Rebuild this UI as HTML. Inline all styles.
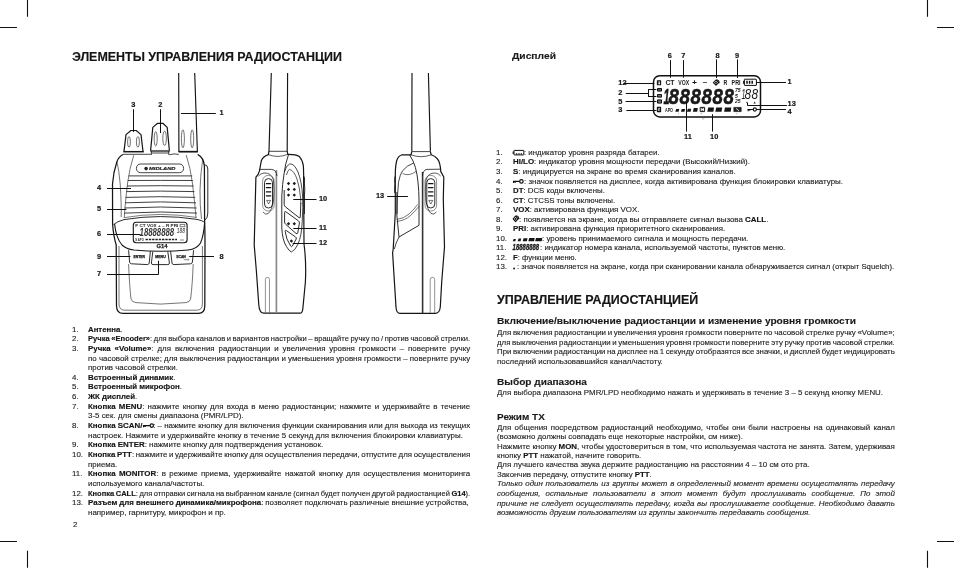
<!DOCTYPE html>
<html lang="ru"><head><meta charset="utf-8"><title>G14</title>
<style>
html,body{margin:0;padding:0;background:#fff;}
body{width:955px;height:569px;position:relative;overflow:hidden;font-family:"Liberation Sans",sans-serif;color:#222;-webkit-text-stroke:0.12px #222;}
.tx{position:absolute;left:0;top:0;width:955px;height:569px;will-change:transform;}
.t{position:absolute;white-space:nowrap;margin:0;padding:0;transform-origin:0 0;}
.h1{font-weight:bold;color:#151515;-webkit-text-stroke:0.15px #151515;}
.h2{font-weight:bold;color:#1a1a1a;-webkit-text-stroke:0.12px #1a1a1a;}
b{color:#151515;-webkit-text-stroke:0.15px #151515;}
.ic{display:inline-block;height:1px;}
svg.art{position:absolute;left:0;top:0;}
</style></head><body>
<div class="tx">
<svg class="art" width="955" height="569" viewBox="0 0 955 569" fill="none" stroke="#151515" stroke-width="1.1" stroke-linecap="butt" stroke-linejoin="round">
<g stroke="#111" stroke-width="1.1"><path d="M27.5 0V16.8M0 27.5H17M0 541.5H17M27.5 550.8V567.7M927.5 0V16.8M937 27.5H954M937 541.5H954M927.5 550.8V567.7"/></g>
<g id="front">
<path d="M178.7 73.1L178.9 152M194.7 73.1L197.4 152" stroke-width="1.15"/>
<path d="M178.6 151.7H197.8" stroke-width="1.7"/>
<g stroke="#333" stroke-width="0.7"><ellipse cx="182.9" cy="138.8" rx="1.5" ry="9"/><ellipse cx="192.2" cy="138.8" rx="1.5" ry="9"/></g>
<path d="M124 151.4L126 134.6L131 130.5H136.2L141 134.6L143 151.4" stroke-width="1.2"/>
<path d="M123.3 151.7H143.8" stroke-width="1.5"/>
<g stroke="#333" stroke-width="0.7"><ellipse cx="129" cy="141.9" rx="1.4" ry="5.3"/><ellipse cx="137.9" cy="141.9" rx="1.5" ry="5.3"/></g>
<path d="M150.6 150.8L152.8 127.4L157.6 123.3H162.8L167.2 127.4L169.4 150.8" stroke-width="1.2"/>
<path d="M150.4 151H169.6" stroke-width="1.3"/><path d="M151 153H169M151.3 151V155M168.8 151V155" stroke-width="0.8"/>
<g stroke="#333" stroke-width="0.7"><ellipse cx="155.7" cy="138.8" rx="1.5" ry="7.2"/><ellipse cx="164.6" cy="138.3" rx="1.8" ry="7.2"/></g>
<path d="M123.4 154.3Q118.6 156.6 116.8 162Q113.4 172 112.5 184L112.6 224Q113.4 236 116.2 245L116.5 306Q116.8 313.4 123 313.4H198.5Q204.6 313.4 204.8 306L205 245Q205 230 204.6 220L204.4 166Q203.6 157.5 198 154.6" stroke-width="1.25"/>
<path d="M123.4 154.3H150.8M169.4 154.8Q174 153.2 178.8 154.4M197.5 154.4L198 154.6" stroke-width="0.8"/>
<path d="M204.6 164.6Q207.8 165 207.8 169V213Q207.8 218 205 220" stroke-width="0.9"/>
<g stroke="#3a3a3a" stroke-width="0.7">
<path d="M116.8 161Q119 170 120.2 184Q121.5 205 121.2 217"/>
<path d="M133.8 155.2Q129.5 168 127.6 183Q125 205 124.2 218"/>
<path d="M186.2 155Q190.5 168 192.4 183Q195 205 196 218"/>
<path d="M202.6 160Q200.4 175 200 190Q199.8 205 201.5 219"/>
<path d="M119 246V304Q119 310.2 125 310.2H196.5Q202.4 310.2 202.4 304V246"/>
<path d="M128.6 264Q129.4 285 131 299Q131.6 302 136 302.6Q160 305.6 186 302.6Q190 302 190.6 299Q192.4 285 193.2 264"/>
</g>
<rect x="136.4" y="164" width="47.2" height="8.7" rx="4.2" stroke-width="0.8"/>
<path d="M128.6 175.9Q160.4 175.9 192.2 175.9" stroke-width="0.9" stroke="#2a2a2a"/>
<path d="M127.8 180.5Q160.3 180.3 192.8 180.5" stroke-width="0.9" stroke="#2a2a2a"/>
<path d="M127 186.0Q160.3 185.4 193.6 186.0" stroke-width="0.9" stroke="#2a2a2a"/>
<path d="M126.3 191.6Q160.3 190.6 194.4 191.6" stroke-width="0.9" stroke="#2a2a2a"/>
<path d="M125.6 197.4Q160.4 196.0 195.2 197.4" stroke-width="0.9" stroke="#2a2a2a"/>
<path d="M125 202.8Q160.5 201.0 196 202.8" stroke-width="0.9" stroke="#2a2a2a"/>
<path d="M124.6 208.0Q160.6 206.0 196.6 208.0" stroke-width="0.9" stroke="#2a2a2a"/>
<path d="M124.2 213.1Q160.6 210.9 197 213.1" stroke-width="0.9" stroke="#2a2a2a"/>
<path d="M113.6 224.5Q117 221.5 124 219.6Q160 213.6 197 219.4Q203 220.6 204.8 222.5" stroke-width="0.9"/>
<path d="M124.2 217.6Q160 211.4 196.4 217.4" stroke-width="0.7" stroke="#444"/>
<path d="M114.6 224Q116 238 122 245Q126 249 134 250Q161 252.6 188 250Q197 249 200.5 243Q203.6 236 204.6 223" stroke-width="1.1"/>
<rect x="133.3" y="222.2" width="53.8" height="20.6" rx="3" stroke-width="1.1"/>
<path d="M128.6 250.2L129.6 262Q129.8 263.6 131.5 263.8L147.4 264.6Q149 264.6 149.2 263L150.4 251.2" stroke-width="0.9"/>
<path d="M152.8 251.6L151.4 263Q151.4 264.6 153 264.6H167.8Q169.4 264.6 169.4 263L167.8 251.6" stroke-width="0.9"/>
<path d="M170.6 251.2L172 263Q172.2 264.6 173.8 264.6L190.6 263.8Q192.2 263.6 192.4 262L193.6 250.2" stroke-width="0.9"/>
</g>
<g stroke="#111" stroke-width="1">
<path d="M133.5 109.2V132M160.5 109.2V133M181 113.5H215.8M107 188.5H131M107 209.5H126.4M107 234.5H140.5M107 256.5H130.4M189.2 256.5H214M158.5 260.8V274.5H107"/>
</g>
<g id="side1">
<path d="M271.3 73.1L269 151.2M287.6 73.1L287.2 151.2" stroke-width="1.15"/>
<path d="M269 151.3H287.2" stroke-width="0.8"/>
<path d="M269 151.2L268.3 154.6Q263 156.6 261.4 160.4L259.4 171.2Q258.6 174.6 255.9 177.2L254.2 245L256.3 270L258.8 305Q259.4 313.2 264 313.2H300Q302.4 313.2 302.8 309L305.4 282Q306.4 262 304 244L303.6 176" stroke-width="1.2"/>
<path d="M287.2 151.2L287.8 154.3Q296 154.2 299.4 156.6Q302.6 160 303.4 166L303.7 176" stroke-width="1.2"/>
<path d="M303.6 176Q304.8 177 304.6 180Q304.2 183 304.6 186Q305 190 304.6 193Q304.2 196 304.6 199L304.4 214" stroke-width="0.9"/>
<path d="M268.3 154.6Q278 158.4 287.8 154.3" stroke-width="0.7"/>
<path d="M288.4 155Q285.4 163 284 174Q282.4 184 281.8 196L281.8 228Q282.4 240 286.4 246.5Q289.4 251.4 291.4 252" stroke-width="0.9"/>
<path d="M291.4 252Q295 250.6 298 244Q301.6 236 302.2 222Q303.2 206 302.6 196Q301.6 181 298 172Q294 163 289.6 164Q286.2 165.2 284.4 172" stroke-width="0.8"/>
<path d="M286.4 175Q288 169.4 289.6 169.4Q294 170.6 297 179Q299.6 187 300.6 198L300.8 204" stroke-width="0.7"/>
<path d="M284.2 190V204.5Q284.3 206 285.6 207L299 217.6Q300.2 218.4 300.3 217L300.8 203" stroke-width="0.9"/>
<path d="M285.6 211.6Q284.6 211.2 284.6 212.6V222Q284.6 223.4 285.8 224.4L296 233.4Q297.4 234.4 297.8 232.8L299.4 223Q299.6 221.6 298.4 220.8Z" stroke-width="0.9"/>
<path d="M286.4 230.6Q285 229.8 285.2 231.6Q286 239 290.6 246Q291.6 247.4 292.4 246L296.2 239Q296.8 237.8 295.6 237Z" stroke-width="0.9"/>
<path d="M286.8 183.5L288.5 181.8L290.2 183.5L288.5 185.2Z" fill="#1a1a1a" stroke="none"/>
<path d="M292.6 183.5L294.3 181.8L296.0 183.5L294.3 185.2Z" fill="#1a1a1a" stroke="none"/>
<path d="M286.8 189.4L288.5 187.70000000000002L290.2 189.4L288.5 191.1Z" fill="#1a1a1a" stroke="none"/>
<path d="M292.6 189.4L294.3 187.70000000000002L296.0 189.4L294.3 191.1Z" fill="#1a1a1a" stroke="none"/>
<path d="M286.8 195.1L288.5 193.4L290.2 195.1L288.5 196.79999999999998Z" fill="#1a1a1a" stroke="none"/>
<path d="M292.6 195.1L294.3 193.4L296.0 195.1L294.3 196.79999999999998Z" fill="#1a1a1a" stroke="none"/>
<path d="M286.8 223.8L288.5 222.10000000000002L290.2 223.8L288.5 225.5Z" fill="#1a1a1a" stroke="none"/>
<path d="M292.6 223.8L294.3 222.10000000000002L296.0 223.8L294.3 225.5Z" fill="#1a1a1a" stroke="none"/>
<path d="M289.7 241L291.4 239.3L293.09999999999997 241L291.4 242.7Z" fill="#1a1a1a" stroke="none"/>
<path d="M276.4 170V313" stroke="#8a8a8a" stroke-width="1.7"/>
<path d="M260 169.4H271.5Q276.6 170 276.9 176" stroke-width="0.8"/>
<path d="M258.6 176Q260.6 173.4 264 173Q271.5 172.6 273.4 180Q274.6 190 273.6 200Q272 210 268.4 213.4Q265.6 215.6 263 212" stroke-width="0.7"/>
<rect x="264.5" y="178.6" width="8" height="29.4" rx="4" stroke-width="0.9"/>
<rect x="262.6" y="175.4" width="11.6" height="35.6" rx="5.6" stroke-width="0.6" stroke="#444"/>
<path d="M265.9 183.6H271.2M265.9 187.7H271.2M265.9 191.8H271.2M265.9 195.8H271.2" stroke-width="1.3"/>
<path d="M266.6 200.4H270.6L268.6 204Z" stroke-width="0.6"/>
<path d="M265.4 313V279.4Q265.4 277.4 267.4 277.4Q269.5 277.4 269.5 279.4V313" stroke="#666" stroke-width="0.7"/>
</g>
<g stroke="#111" stroke-width="1"><path d="M293.3 199.5H316.5M293.3 228.5H316.5M292.7 243.5H316.5"/></g>
<g id="side2">
<path d="M412 73.1L411.8 151.6M428.4 73.1L430.4 151.6" stroke-width="1.15"/>
<path d="M411.8 151.6H430.4" stroke-width="0.8"/>
<path d="M411.8 151.6L411 154.8H402Q398 156 396.6 161Q395.4 166 395.3 172V213L393.2 249L392.6 253L396 307Q396.4 313.4 400 313.4H435Q439.6 313.4 440.3 307L441.7 282L444.5 247L443.3 199L443.8 177L440.8 171.6Q440.2 162 437.5 159Q435 156 431.2 154.8L430.4 151.6" stroke-width="1.2"/>
<path d="M411 154.8Q421 158.6 431.2 154.8" stroke-width="0.7"/>
<path d="M395.3 176Q394.2 178 394.6 181Q395 184 394.6 187Q394.2 190 394.7 193" stroke-width="0.8"/>
<path d="M409.6 154.8Q413.6 161 415.4 167.4Q417.4 175 418 182.2Q419 192 419 200V225.3" stroke-width="0.9"/>
<path d="M397 214Q397 196 398.5 182.2Q400 174 402.7 170.6Q406.6 165.6 413.6 163" stroke-width="0.8"/>
<path d="M402.6 173.6Q409 176.6 416.2 171.4" stroke-width="0.6"/>
<path d="M396.9 192V216L399 237L419 225.3" stroke-width="0.9"/>
<path d="M396.9 219.4Q404 218.6 409 214Q414.4 209 417.6 204.4M396.9 221.4Q405 220.6 410.4 215.6Q415.6 210.6 419 206.4" stroke-width="0.6"/>
<path d="M399 237Q395.6 243 394.4 249" stroke-width="0.8"/>
<path d="M422.6 172V313.4" stroke="#333" stroke-width="1.6"/>
<path d="M422.4 176Q422.8 170 427 169.4L440 169.2" stroke-width="0.8"/>
<path d="M440.6 176Q438.6 173.4 435.4 173Q428 172.6 426 180Q424.8 190 425.8 200Q427.4 210 431 213.4Q433.8 215.6 436.4 212" stroke-width="0.7"/>
<rect x="426.8" y="178.6" width="8" height="29.4" rx="4" stroke-width="0.9"/>
<rect x="425" y="175.4" width="11.6" height="35.6" rx="5.6" stroke-width="0.6" stroke="#444"/>
<path d="M428.1 183.6H433.4M428.1 187.7H433.4M428.1 191.8H433.4M428.1 195.8H433.4" stroke-width="1.3"/>
<path d="M428.8 200.4H432.8L430.8 204Z" stroke-width="0.6"/>
<path d="M430.2 313V279.4Q430.2 277.4 432.4 277.4Q434.7 277.4 434.7 279.4V313" stroke="#666" stroke-width="0.7"/>
</g>
<g stroke="#111" stroke-width="1"><path d="M387.1 196.5H407.9"/></g>
<g font-family="Liberation Sans, sans-serif">
<text x="133.4" y="107" font-size="7.4" font-weight="bold" text-anchor="middle" fill="#1a1a1a" stroke="none" style="stroke:#1a1a1a;stroke-width:0.2px">3</text>
<text x="160.3" y="107" font-size="7.4" font-weight="bold" text-anchor="middle" fill="#1a1a1a" stroke="none" style="stroke:#1a1a1a;stroke-width:0.2px">2</text>
<text x="219.6" y="115.4" font-size="7.4" font-weight="bold" text-anchor="start" fill="#1a1a1a" stroke="none" style="stroke:#1a1a1a;stroke-width:0.2px">1</text>
<text x="97.0" y="189.8" font-size="7.4" font-weight="bold" text-anchor="start" fill="#1a1a1a" stroke="none" style="stroke:#1a1a1a;stroke-width:0.2px">4</text>
<text x="97.0" y="210.9" font-size="7.4" font-weight="bold" text-anchor="start" fill="#1a1a1a" stroke="none" style="stroke:#1a1a1a;stroke-width:0.2px">5</text>
<text x="97.0" y="235.6" font-size="7.4" font-weight="bold" text-anchor="start" fill="#1a1a1a" stroke="none" style="stroke:#1a1a1a;stroke-width:0.2px">6</text>
<text x="97.0" y="258.7" font-size="7.4" font-weight="bold" text-anchor="start" fill="#1a1a1a" stroke="none" style="stroke:#1a1a1a;stroke-width:0.2px">9</text>
<text x="97.0" y="275.7" font-size="7.4" font-weight="bold" text-anchor="start" fill="#1a1a1a" stroke="none" style="stroke:#1a1a1a;stroke-width:0.2px">7</text>
<text x="219.6" y="258.7" font-size="7.4" font-weight="bold" text-anchor="start" fill="#1a1a1a" stroke="none" style="stroke:#1a1a1a;stroke-width:0.2px">8</text>
<text x="319.0" y="200.7" font-size="7.4" font-weight="bold" text-anchor="start" fill="#1a1a1a" stroke="none" style="stroke:#1a1a1a;stroke-width:0.2px">10</text>
<text x="319.0" y="229.8" font-size="7.4" font-weight="bold" text-anchor="start" fill="#1a1a1a" stroke="none" style="stroke:#1a1a1a;stroke-width:0.2px">11</text>
<text x="319.0" y="245.0" font-size="7.4" font-weight="bold" text-anchor="start" fill="#1a1a1a" stroke="none" style="stroke:#1a1a1a;stroke-width:0.2px">12</text>
<text x="376.0" y="197.7" font-size="7.4" font-weight="bold" text-anchor="start" fill="#1a1a1a" stroke="none" style="stroke:#1a1a1a;stroke-width:0.2px">13</text>
<text x="669.8" y="57.9" font-size="7.4" font-weight="bold" text-anchor="middle" fill="#1a1a1a" stroke="none" style="stroke:#1a1a1a;stroke-width:0.2px">6</text>
<text x="683.3" y="57.9" font-size="7.4" font-weight="bold" text-anchor="middle" fill="#1a1a1a" stroke="none" style="stroke:#1a1a1a;stroke-width:0.2px">7</text>
<text x="717.6" y="57.9" font-size="7.4" font-weight="bold" text-anchor="middle" fill="#1a1a1a" stroke="none" style="stroke:#1a1a1a;stroke-width:0.2px">8</text>
<text x="737.0" y="57.9" font-size="7.4" font-weight="bold" text-anchor="middle" fill="#1a1a1a" stroke="none" style="stroke:#1a1a1a;stroke-width:0.2px">9</text>
<text x="618.3" y="85.1" font-size="7.4" font-weight="bold" text-anchor="start" fill="#1a1a1a" stroke="none" style="stroke:#1a1a1a;stroke-width:0.2px">12</text>
<text x="618.3" y="94.8" font-size="7.4" font-weight="bold" text-anchor="start" fill="#1a1a1a" stroke="none" style="stroke:#1a1a1a;stroke-width:0.2px">2</text>
<text x="618.3" y="103.5" font-size="7.4" font-weight="bold" text-anchor="start" fill="#1a1a1a" stroke="none" style="stroke:#1a1a1a;stroke-width:0.2px">5</text>
<text x="618.3" y="111.6" font-size="7.4" font-weight="bold" text-anchor="start" fill="#1a1a1a" stroke="none" style="stroke:#1a1a1a;stroke-width:0.2px">3</text>
<text x="787.4" y="83.6" font-size="7.4" font-weight="bold" text-anchor="start" fill="#1a1a1a" stroke="none" style="stroke:#1a1a1a;stroke-width:0.2px">1</text>
<text x="787.6" y="105.6" font-size="7.4" font-weight="bold" text-anchor="start" fill="#1a1a1a" stroke="none" style="stroke:#1a1a1a;stroke-width:0.2px">13</text>
<text x="787.4" y="113.7" font-size="7.4" font-weight="bold" text-anchor="start" fill="#1a1a1a" stroke="none" style="stroke:#1a1a1a;stroke-width:0.2px">4</text>
<text x="687.9" y="138.8" font-size="7.4" font-weight="bold" text-anchor="middle" fill="#1a1a1a" stroke="none" style="stroke:#1a1a1a;stroke-width:0.2px">11</text>
<text x="714.2" y="138.8" font-size="7.4" font-weight="bold" text-anchor="middle" fill="#1a1a1a" stroke="none" style="stroke:#1a1a1a;stroke-width:0.2px">10</text>
<rect x="653.5" y="75.7" width="107" height="41.2" rx="6.2" stroke="#111" stroke-width="1.5" fill="none"/>
<g stroke="#111" stroke-width="1" fill="none"><path d="M670.5 60.1V77.7M683.5 60.1V77.7M716.5 59.4V78M737.5 59.4V78M623.7 83.5H654.3M625.8 93.5H648.5M648.5 89.5V97M648.1 89.5H656.4M648.1 96.5H656.4M625.5 101.5H656.4M626.4 110.5H656.4M756 82.5H786M747.5 103V105.5H786.9M756 109.5H786M686.5 102.7V131.6M712.5 114.2V131.6"/></g>
<text x="665.4" y="85.0" font-size="6.6" font-weight="bold" text-anchor="start" fill="#1a1a1a" stroke="none" textLength="9.2" lengthAdjust="spacingAndGlyphs">CT</text>
<text x="678.2" y="85.0" font-size="6.6" font-weight="bold" text-anchor="start" fill="#1a1a1a" stroke="none" textLength="10.9" lengthAdjust="spacingAndGlyphs">VOX</text>
<text x="692.0" y="85.2" font-size="7.2" font-weight="bold" text-anchor="start" fill="#1a1a1a" stroke="none" textLength="5.0" lengthAdjust="spacingAndGlyphs">+</text>
<text x="702.5" y="84.0" font-size="7.2" font-weight="bold" text-anchor="start" fill="#1a1a1a" stroke="none" textLength="4.8" lengthAdjust="spacingAndGlyphs">–</text>
<text x="723.6" y="85.0" font-size="6.6" font-weight="bold" text-anchor="start" fill="#1a1a1a" stroke="none" textLength="3.8" lengthAdjust="spacingAndGlyphs">R</text>
<text x="731.6" y="85.0" font-size="6.6" font-weight="bold" text-anchor="start" fill="#1a1a1a" stroke="none" textLength="8.9" lengthAdjust="spacingAndGlyphs">PRI</text>
<rect x="657.4" y="80.7" width="3.2" height="4.1" fill="none" stroke="#111" stroke-width="1.1"/>
<path d="M713.4 82.6L716 80.2L718.6 82.6L716 85.2ZM716.4 79.8Q719.4 80.2 719.1 83.2" stroke="#111" stroke-width="1.1" fill="none"/><circle cx="716" cy="82.7" r="1" fill="#111" stroke="none"/>
<rect x="744.4" y="79.2" width="12" height="6.2" rx="0.3" stroke="#111" stroke-width="1" fill="none"/><path d="M743.6 80.8V83.8" stroke="#111" stroke-width="1"/><path d="M747 80.8V83.8M749.6 80.8V83.8M752.2 80.8V83.8" stroke="#111" stroke-width="1.5"/>
<rect x="657.5" y="88.5" width="4" height="2.6" fill="#999" stroke="#111" stroke-width="1"/>
<text x="659.5" y="90.6" font-size="3.0" font-weight="bold" text-anchor="middle" fill="#1a1a1a" stroke="none" textLength="2.8" lengthAdjust="spacingAndGlyphs">HI</text>
<rect x="657.5" y="94.5" width="4" height="2.6" fill="#999" stroke="#111" stroke-width="1"/>
<text x="659.5" y="96.6" font-size="3.0" font-weight="bold" text-anchor="middle" fill="#1a1a1a" stroke="none" textLength="2.8" lengthAdjust="spacingAndGlyphs">LO</text>
<rect x="657.5" y="99.9" width="4" height="3.2" fill="#999" stroke="#111" stroke-width="1"/>
<text x="659.5" y="102.60000000000001" font-size="3.0" font-weight="bold" text-anchor="middle" fill="#1a1a1a" stroke="none" textLength="2.8" lengthAdjust="spacingAndGlyphs">DT</text>
<rect x="657.4" y="107.4" width="3.2" height="4.2" fill="none" stroke="#111" stroke-width="1.1"/>
<text x="659.0" y="111.0" font-size="3.2" font-weight="bold" text-anchor="middle" fill="#1a1a1a" stroke="none">S</text>
<text x="659.0" y="84.2" font-size="3.2" font-weight="bold" text-anchor="middle" fill="#1a1a1a" stroke="none">F</text>
<g font-style="italic">
<text x="663.6" y="103.6" font-size="22" font-weight="bold" text-anchor="start" fill="#1a1a1a" stroke="none" textLength="6.0" lengthAdjust="spacingAndGlyphs" stroke="#111" stroke-width="0.5" style="stroke:#111">1</text>
<text x="668.6" y="103.7" font-size="22.6" font-weight="bold" text-anchor="start" fill="#1a1a1a" stroke="none" textLength="10.4" lengthAdjust="spacingAndGlyphs" style="stroke:#111;stroke-width:0.5px">8</text>
<text x="679.57" y="103.7" font-size="22.6" font-weight="bold" text-anchor="start" fill="#1a1a1a" stroke="none" textLength="10.4" lengthAdjust="spacingAndGlyphs" style="stroke:#111;stroke-width:0.5px">8</text>
<text x="690.5400000000001" y="103.7" font-size="22.6" font-weight="bold" text-anchor="start" fill="#1a1a1a" stroke="none" textLength="10.4" lengthAdjust="spacingAndGlyphs" style="stroke:#111;stroke-width:0.5px">8</text>
<text x="701.51" y="103.7" font-size="22.6" font-weight="bold" text-anchor="start" fill="#1a1a1a" stroke="none" textLength="10.4" lengthAdjust="spacingAndGlyphs" style="stroke:#111;stroke-width:0.5px">8</text>
<text x="712.48" y="103.7" font-size="22.6" font-weight="bold" text-anchor="start" fill="#1a1a1a" stroke="none" textLength="10.4" lengthAdjust="spacingAndGlyphs" style="stroke:#111;stroke-width:0.5px">8</text>
<text x="723.45" y="103.7" font-size="22.6" font-weight="bold" text-anchor="start" fill="#1a1a1a" stroke="none" textLength="10.4" lengthAdjust="spacingAndGlyphs" style="stroke:#111;stroke-width:0.5px">8</text>
<text x="735.0" y="92.0" font-size="4.6" font-weight="bold" text-anchor="start" fill="#1a1a1a" stroke="none" textLength="5.6" lengthAdjust="spacingAndGlyphs">75</text>
<text x="735.0" y="97.6" font-size="4.6" font-weight="bold" text-anchor="start" fill="#1a1a1a" stroke="none" textLength="2.8" lengthAdjust="spacingAndGlyphs">5</text>
<text x="735.0" y="103.2" font-size="4.6" font-weight="bold" text-anchor="start" fill="#1a1a1a" stroke="none" textLength="5.6" lengthAdjust="spacingAndGlyphs">25</text>
<text x="741.6" y="99.0" font-size="15" font-weight="normal" text-anchor="start" fill="#1a1a1a" stroke="none" textLength="4.0" lengthAdjust="spacingAndGlyphs">1</text>
<text x="744.6" y="99.0" font-size="15" font-weight="normal" text-anchor="start" fill="#1a1a1a" stroke="none" textLength="6.6" lengthAdjust="spacingAndGlyphs">8</text>
<text x="751.4" y="99.0" font-size="15" font-weight="normal" text-anchor="start" fill="#1a1a1a" stroke="none" textLength="6.6" lengthAdjust="spacingAndGlyphs">8</text>
</g>
<circle cx="747" cy="102.5" r="0.7" fill="#111" stroke="none"/><path d="M753.4 103.4L754.6 101.4L755.8 103.4Z" fill="#222" stroke="none"/>
<g stroke="#111" fill="none"><path d="M747.4 109.5H753.6M748.2 109.5V111.2M749.8 109.5V110.8" stroke-width="1.2"/><circle cx="754.8" cy="109.5" r="1.6" stroke-width="1.1"/></g>
<text x="665.0" y="111.7" font-size="6.2" font-weight="bold" text-anchor="start" fill="#1a1a1a" stroke="none" textLength="8.0" lengthAdjust="spacingAndGlyphs">APO</text>
<path d="M676.2 108.9H679.1999999999999L678.6 111.7H675.3000000000001Z" fill="#151515" stroke="none"/>
<path d="M681.8000000000001 108.9H685.0999999999999L684.5 111.7H680.9000000000001Z" fill="#151515" stroke="none"/>
<path d="M687.8000000000001 108.7H691.1999999999999L690.6 111.7H686.9000000000001Z" fill="#151515" stroke="none"/>
<path d="M693.8000000000001 108.1H697.8L697.2 111.7H692.9000000000001Z" fill="#151515" stroke="none"/>
<path d="M708.2 107.5H714.0L713.4000000000001 111.7H707.3000000000001Z" fill="#151515" stroke="none"/>
<path d="M716.2 107.5H722.1999999999999L721.6 111.7H715.3000000000001Z" fill="#151515" stroke="none"/>
<path d="M725.0 107.5H731.3L730.7 111.7H724.1Z" fill="#151515" stroke="none"/>
<rect x="700.2" y="107.4" width="4.4" height="4.2" fill="none" stroke="#111" stroke-width="1"/><path d="M701.6 108.6h1.6M701.6 110.4h1.6" stroke="#111" stroke-width="0.7"/>
<rect x="733.8" y="107.4" width="7.4" height="4.2" fill="#222" stroke="#111" stroke-width="0.6"/><path d="M736 108.4L739 110.8" stroke="#fff" stroke-width="0.8"/>
<path d="M678 113.6h1M700.6 113.8h1.6M736 113.8h1.2M702 118.6q1.2 0.8 2.4 0" stroke="#666" stroke-width="0.5" fill="none"/>
<text x="135.3" y="226.9" font-size="3.5" font-weight="bold" text-anchor="start" fill="#1a1a1a" stroke="none" textLength="43" lengthAdjust="spacingAndGlyphs">F CT VOX + – R PRI</text>
<rect x="180" y="224.4" width="4.8" height="2.3" fill="none" stroke="#222" stroke-width="0.6"/>
<g font-style="italic">
<text x="139.6" y="235.7" font-size="10.8" font-weight="bold" text-anchor="start" fill="#333" stroke="none" textLength="34.5" lengthAdjust="spacingAndGlyphs">18888888</text>
<text x="176.7" y="233.4" font-size="6.4" font-weight="normal" text-anchor="start" fill="#1a1a1a" stroke="none" textLength="8.2" lengthAdjust="spacingAndGlyphs">188</text>
</g>
<text x="135.3" y="240.6" font-size="3.2" font-weight="bold" text-anchor="start" fill="#1a1a1a" stroke="none" textLength="8.5" lengthAdjust="spacingAndGlyphs">S APO</text>
<path d="M145.5 239.5H177" stroke="#222" stroke-width="1.7" stroke-dasharray="2.4 0.9" fill="none"/>
<path d="M180 240H184" stroke="#333" stroke-width="0.6"/>
<text x="161.9" y="247.9" font-size="5.9" font-weight="bold" text-anchor="middle" fill="#1a1a1a" stroke="none" textLength="11" lengthAdjust="spacingAndGlyphs" style="stroke:#1a1a1a;stroke-width:0.25px">G14</text>
<text x="139.2" y="258.0" font-size="3.4" font-weight="bold" text-anchor="middle" fill="#1a1a1a" stroke="none" textLength="11.6" lengthAdjust="spacingAndGlyphs" style="stroke:#1a1a1a;stroke-width:0.25px">ENTER</text>
<text x="160.5" y="258.0" font-size="3.4" font-weight="bold" text-anchor="middle" fill="#1a1a1a" stroke="none" textLength="10.4" lengthAdjust="spacingAndGlyphs" style="stroke:#1a1a1a;stroke-width:0.25px">MENU</text>
<text x="181.0" y="257.6" font-size="3.4" font-weight="bold" text-anchor="middle" fill="#1a1a1a" stroke="none" textLength="9.6" lengthAdjust="spacingAndGlyphs" style="stroke:#1a1a1a;stroke-width:0.25px">SCAN</text>
<path d="M183.8 259.7H187.4" stroke="#222" stroke-width="0.5"/><circle cx="188.2" cy="259.6" r="0.8" fill="none" stroke="#222" stroke-width="0.4"/>
<g font-style="italic">
<text x="149.0" y="170.4" font-size="3.6" font-weight="bold" text-anchor="start" fill="#1a1a1a" stroke="none" textLength="26.5" lengthAdjust="spacingAndGlyphs" style="stroke:#222;stroke-width:0.15px">MIDLAND</text>
</g>
<circle cx="146.1" cy="168.6" r="1.8" fill="#222" stroke="none"/>
<g stroke="#111" fill="none"><rect x="514" y="150.4" width="9.8" height="4.5" rx="0.3" stroke-width="1"/><path d="M513.2 151.4V153.9" stroke-width="1.1"/><path d="M516.6 153.2V154.4M519 153.2V154.4M521.4 153.2V154.4" stroke-width="1.3"/></g>
<g stroke="#111" fill="none"><path d="M513 181.4H519.6M513.6 181.4V183.1M515.2 181.4V182.8" stroke-width="1.3"/><circle cx="521.4" cy="181.4" r="1.7" stroke-width="1.2"/></g>
<path d="M513.2 218.8L515.6 216.2L518 218.8L515.6 221.6ZM516 215.8Q519 216.2 518.7 219.2" stroke="#111" stroke-width="1.1" fill="none"/><circle cx="515.6" cy="218.9" r="1" fill="#111" stroke="none"/>
<path d="M513.6 238.9H515.9L515.3000000000001 241.3H512.7Z" fill="#151515" stroke="none"/>
<path d="M518.6 238.6H521.1999999999999L520.6 241.3H517.7Z" fill="#151515" stroke="none"/>
<path d="M523.6 238.3H527.5L526.9000000000001 241.3H522.7Z" fill="#151515" stroke="none"/>
<path d="M529.2 238.0H534.6999999999999L534.1 241.3H528.3000000000001Z" fill="#151515" stroke="none"/>
<path d="M536.0 238.0H542.3L541.7 241.3H535.1Z" fill="#151515" stroke="none"/>
<g font-style="italic">
<text x="512.6" y="250.2" font-size="8.6" font-weight="bold" text-anchor="start" fill="#1a1a1a" stroke="none" textLength="26.6" lengthAdjust="spacingAndGlyphs" style="stroke:#222;stroke-width:0.35px">18888888</text>
</g>
<circle cx="514.1" cy="268.6" r="1.0" fill="#222" stroke="none"/>
<g stroke="#111" fill="none"><path d="M143 425.6H150M143.6 425.6V427.3M145.2 425.6V427" stroke-width="1.3"/><circle cx="151.8" cy="425.6" r="1.7" stroke-width="1.2"/></g>
</g>
</svg>
<div class="t h1" style="left:72.0px;top:50.10px;font-size:12.1px;line-height:15px;transform:scaleX(1.0297);">ЭЛЕМЕНТЫ УПРАВЛЕНИЯ РАДИОСТАНЦИИ</div>
<div class="t h1" style="left:497px;top:293.10px;font-size:12.1px;line-height:15px;transform:scaleX(1.0296);">УПРАВЛЕНИЕ РАДИОСТАНЦИЕЙ</div>
<div class="t h2" style="left:511.8px;top:50.10px;font-size:9.5px;line-height:11px;transform:scaleX(1.0818);">Дисплей</div>
<div class="t h2" style="left:497px;top:315.10px;font-size:9.5px;line-height:11px;transform:scaleX(1.0710);">Включение/выключение радиостанции и изменение уровня громкости</div>
<div class="t h2" style="left:497px;top:376.10px;font-size:9.5px;line-height:11px;transform:scaleX(1.0625);">Выбор диапазона</div>
<div class="t h2" style="left:497px;top:411.10px;font-size:9.5px;line-height:11px;transform:scaleX(1.0473);">Режим TX</div>
<div class="t " style="left:71.8px;top:325.10px;font-size:7.65px;line-height:9px;transform:scaleX(1.0350);">1.</div>
<div class="t " style="left:87.8px;top:325.10px;font-size:7.65px;line-height:9px;transform:scaleX(1.0227);"><b>Антенна</b>.</div>
<div class="t " style="left:71.8px;top:334.10px;font-size:7.65px;line-height:9px;transform:scaleX(1.0350);">2.</div>
<div class="t " style="left:87.8px;top:334.10px;font-size:7.65px;line-height:9px;word-spacing:-0.532px;transform:scaleX(0.9927);"><b>Ручка «Encoder»</b>: для выбора каналов и вариантов настройки – вращайте ручку по / против часовой стрелки.</div>
<div class="t " style="left:71.8px;top:344.10px;font-size:7.65px;line-height:9px;transform:scaleX(1.0350);">3.</div>
<div class="t " style="left:87.8px;top:344.10px;font-size:7.65px;line-height:9px;word-spacing:1.667px;transform:scaleX(1.0350);"><b>Ручка «Volume»</b>: для включения радиостанции и увеличения уровня громкости – поверните ручку</div>
<div class="t " style="left:87.8px;top:354.10px;font-size:7.65px;line-height:9px;word-spacing:0.006px;transform:scaleX(1.0350);">по часовой стрелке; для выключения радиостанции и уменьшения уровня громкости – поверните ручку</div>
<div class="t " style="left:87.8px;top:363.10px;font-size:7.65px;line-height:9px;transform:scaleX(1.0311);">против часовой стрелки.</div>
<div class="t " style="left:71.8px;top:373.10px;font-size:7.65px;line-height:9px;transform:scaleX(1.0350);">4.</div>
<div class="t " style="left:87.8px;top:373.10px;font-size:7.65px;line-height:9px;transform:scaleX(1.0357);"><b>Встроенный динамик</b>.</div>
<div class="t " style="left:71.8px;top:382.10px;font-size:7.65px;line-height:9px;transform:scaleX(1.0350);">5.</div>
<div class="t " style="left:87.8px;top:382.10px;font-size:7.65px;line-height:9px;transform:scaleX(1.0299);"><b>Встроенный микрофон</b>.</div>
<div class="t " style="left:71.8px;top:392.10px;font-size:7.65px;line-height:9px;transform:scaleX(1.0350);">6.</div>
<div class="t " style="left:87.8px;top:392.10px;font-size:7.65px;line-height:9px;transform:scaleX(1.0263);"><b>ЖК дисплей</b>.</div>
<div class="t " style="left:71.8px;top:402.10px;font-size:7.65px;line-height:9px;transform:scaleX(1.0350);">7.</div>
<div class="t " style="left:87.8px;top:402.10px;font-size:7.65px;line-height:9px;word-spacing:1.043px;transform:scaleX(1.0350);"><b>Кнопка MENU</b>: нажмите кнопку для входа в меню радиостанции; нажмите и удерживайте в течение</div>
<div class="t " style="left:87.8px;top:411.10px;font-size:7.65px;line-height:9px;transform:scaleX(1.0375);">3-5 сек. для смены диапазона (PMR/LPD).</div>
<div class="t " style="left:71.8px;top:421.10px;font-size:7.65px;line-height:9px;transform:scaleX(1.0350);">8.</div>
<div class="t " style="left:87.8px;top:421.10px;font-size:7.65px;line-height:9px;word-spacing:0.002px;transform:scaleX(1.0350);"><b>Кнопка SCAN/</b><span class="ic" style="width:10.4px"></span>: – нажмите кнопку для включения функции сканирования или для выхода из текущих</div>
<div class="t " style="left:87.8px;top:431.10px;font-size:7.65px;line-height:9px;transform:scaleX(1.0371);">настроек. Нажмите и удерживайте кнопку в течение 5 секунд для включения блокировки клавиатуры.</div>
<div class="t " style="left:71.8px;top:440.10px;font-size:7.65px;line-height:9px;transform:scaleX(1.0350);">9.</div>
<div class="t " style="left:87.8px;top:440.10px;font-size:7.65px;line-height:9px;transform:scaleX(1.0362);"><b>Кнопка ENTER</b>: нажмите кнопку для подтверждения установок.</div>
<div class="t " style="left:71.8px;top:450.10px;font-size:7.65px;line-height:9px;transform:scaleX(1.0350);">10.</div>
<div class="t " style="left:87.8px;top:450.10px;font-size:7.65px;line-height:9px;word-spacing:-0.532px;transform:scaleX(1.0297);"><b>Кнопка PTT</b>: нажмите и удерживайте кнопку для осуществления передачи, отпустите для осуществления</div>
<div class="t " style="left:87.8px;top:460.10px;font-size:7.65px;line-height:9px;transform:scaleX(1.0234);">приема.</div>
<div class="t " style="left:71.8px;top:469.10px;font-size:7.65px;line-height:9px;transform:scaleX(1.0350);">11.</div>
<div class="t " style="left:87.8px;top:469.10px;font-size:7.65px;line-height:9px;word-spacing:1.142px;transform:scaleX(1.0350);"><b>Кнопка MONITOR</b>: в режиме приема, удерживайте нажатой кнопку для осуществления мониторинга</div>
<div class="t " style="left:87.8px;top:479.10px;font-size:7.65px;line-height:9px;transform:scaleX(1.0351);">используемого канала/частоты.</div>
<div class="t " style="left:71.8px;top:489.10px;font-size:7.65px;line-height:9px;transform:scaleX(1.0350);">12.</div>
<div class="t " style="left:87.8px;top:489.10px;font-size:7.65px;line-height:9px;word-spacing:-0.532px;transform:scaleX(0.9834);"><b>Кнопка CALL</b>: для отправки сигнала на выбранном канале (сигнал будет получен другой радиостанцией <b>G14</b>).</div>
<div class="t " style="left:71.8px;top:498.10px;font-size:7.65px;line-height:9px;transform:scaleX(1.0350);">13.</div>
<div class="t " style="left:87.8px;top:498.10px;font-size:7.65px;line-height:9px;word-spacing:-0.225px;transform:scaleX(1.0350);"><b>Разъем для внешнего динамика/микрофона</b>: позволяет подключать различные внешние устройства,</div>
<div class="t " style="left:87.8px;top:508.10px;font-size:7.65px;line-height:9px;transform:scaleX(1.0388);">например, гарнитуру, микрофон и пр.</div>
<div class="t " style="left:72.6px;top:520.10px;font-size:7.65px;line-height:9px;transform:scaleX(1.0350);">2</div>
<div class="t " style="left:496.3px;top:148.10px;font-size:7.65px;line-height:9px;transform:scaleX(1.0350);">1.</div>
<div class="t " style="left:524.4px;top:148.10px;font-size:7.65px;line-height:9px;transform:scaleX(1.0300);">: индикатор уровня разряда батареи.</div>
<div class="t " style="left:496.3px;top:157.10px;font-size:7.65px;line-height:9px;transform:scaleX(1.0350);">2.</div>
<div class="t " style="left:512.8px;top:157.10px;font-size:7.65px;line-height:9px;transform:scaleX(1.0346);"><b>HI/LO</b>: индикатор уровня мощности передачи (Высокий/Низкий).</div>
<div class="t " style="left:496.3px;top:167.10px;font-size:7.65px;line-height:9px;transform:scaleX(1.0350);">3.</div>
<div class="t " style="left:512.8px;top:167.10px;font-size:7.65px;line-height:9px;transform:scaleX(1.0373);"><b>S</b>: индицируется на экране во время сканирования каналов.</div>
<div class="t " style="left:496.3px;top:177.10px;font-size:7.65px;line-height:9px;transform:scaleX(1.0350);">4.</div>
<div class="t " style="left:524.4px;top:177.10px;font-size:7.65px;line-height:9px;transform:scaleX(1.0367);">: значок появляется на дисплее, когда активирована функция блокировки клавиатуры.</div>
<div class="t " style="left:496.3px;top:186.10px;font-size:7.65px;line-height:9px;transform:scaleX(1.0350);">5.</div>
<div class="t " style="left:512.8px;top:186.10px;font-size:7.65px;line-height:9px;transform:scaleX(1.0218);"><b>DT</b>: DCS коды включены.</div>
<div class="t " style="left:496.3px;top:196.10px;font-size:7.65px;line-height:9px;transform:scaleX(1.0350);">6.</div>
<div class="t " style="left:512.8px;top:196.10px;font-size:7.65px;line-height:9px;transform:scaleX(1.0258);"><b>CT</b>: CTCSS тоны включены.</div>
<div class="t " style="left:496.3px;top:205.10px;font-size:7.65px;line-height:9px;transform:scaleX(1.0350);">7.</div>
<div class="t " style="left:512.8px;top:205.10px;font-size:7.65px;line-height:9px;transform:scaleX(1.0350);"><b>VOX</b>: активирована функция VOX.</div>
<div class="t " style="left:496.3px;top:215.10px;font-size:7.65px;line-height:9px;transform:scaleX(1.0350);">8.</div>
<div class="t " style="left:519.3px;top:215.10px;font-size:7.65px;line-height:9px;transform:scaleX(1.0353);">: появляется на экране, когда вы отправляете сигнал вызова <b>CALL</b>.</div>
<div class="t " style="left:496.3px;top:224.10px;font-size:7.65px;line-height:9px;transform:scaleX(1.0350);">9.</div>
<div class="t " style="left:512.8px;top:224.10px;font-size:7.65px;line-height:9px;transform:scaleX(1.0306);"><b>PRI</b>: активирована функция приоритетного сканирования.</div>
<div class="t " style="left:496.3px;top:234.10px;font-size:7.65px;line-height:9px;transform:scaleX(1.0350);">10.</div>
<div class="t " style="left:542.3px;top:234.10px;font-size:7.65px;line-height:9px;transform:scaleX(1.0404);">: уровень принимаемого сигнала и мощность передачи.</div>
<div class="t " style="left:496.3px;top:243.10px;font-size:7.65px;line-height:9px;transform:scaleX(1.0350);">11.</div>
<div class="t " style="left:539.8px;top:243.10px;font-size:7.65px;line-height:9px;transform:scaleX(1.0363);">: индикатор номера канала, используемой частоты, пунктов меню.</div>
<div class="t " style="left:496.3px;top:253.10px;font-size:7.65px;line-height:9px;transform:scaleX(1.0350);">12.</div>
<div class="t " style="left:512.8px;top:253.10px;font-size:7.65px;line-height:9px;transform:scaleX(1.0091);"><b>F</b>: функции меню.</div>
<div class="t " style="left:496.3px;top:262.10px;font-size:7.65px;line-height:9px;transform:scaleX(1.0350);">13.</div>
<div class="t " style="left:517.2px;top:262.10px;font-size:7.65px;line-height:9px;transform:scaleX(1.0109);">: значок появляется на экране, когда при сканировании канала обнаруживается сигнал (открыт Squelch).</div>
<div class="t " style="left:497px;top:328.10px;font-size:7.65px;line-height:9px;word-spacing:-0.532px;transform:scaleX(1.0340);">Для включения радиостанции и увеличения уровня громкости поверните по часовой стрелке ручку «Volume»;</div>
<div class="t " style="left:497px;top:338.10px;font-size:7.65px;line-height:9px;word-spacing:-0.532px;transform:scaleX(1.0318);">для выключения радиостанции и уменьшения уровня громкости поверните эту ручку против часовой стрелки.</div>
<div class="t " style="left:497px;top:347.10px;font-size:7.65px;line-height:9px;word-spacing:-0.532px;transform:scaleX(1.0248);">При включении радиостанции на дисплее на 1 секунду отобразятся все значки, и дисплей будет индицировать</div>
<div class="t " style="left:497px;top:357.10px;font-size:7.65px;line-height:9px;transform:scaleX(1.0320);">последний использовавшийся канал/частоту.</div>
<div class="t " style="left:497px;top:388.10px;font-size:7.65px;line-height:9px;transform:scaleX(1.0310);">Для выбора диапазона PMR/LPD необходимо нажать и удерживать в течение 3 – 5 секунд кнопку MENU.</div>
<div class="t " style="left:497px;top:423.10px;font-size:7.65px;line-height:9px;word-spacing:1.056px;transform:scaleX(1.0350);">Для общения посредством радиостанций необходимо, чтобы они были настроены на одинаковый канал</div>
<div class="t " style="left:497px;top:432.10px;font-size:7.65px;line-height:9px;transform:scaleX(1.0301);">(возможно должны совпадать еще некоторые настройки, см ниже).</div>
<div class="t " style="left:497px;top:442.10px;font-size:7.65px;line-height:9px;word-spacing:-0.002px;transform:scaleX(1.0350);">Нажмите кнопку <b>MON</b>, чтобы удостовериться в том, что используемая частота не занята. Затем, удерживая</div>
<div class="t " style="left:497px;top:451.10px;font-size:7.65px;line-height:9px;transform:scaleX(1.0344);">кнопку <b>PTT</b> нажатой, начните говорить.</div>
<div class="t " style="left:497px;top:460.10px;font-size:7.65px;line-height:9px;transform:scaleX(1.0292);">Для лучшего качества звука держите радиостанцию на расстоянии 4 – 10 см ото рта.</div>
<div class="t " style="left:497px;top:470.10px;font-size:7.65px;line-height:9px;transform:scaleX(1.0289);">Закончив передачу, отпустите кнопку <b>PTT</b>.</div>
<div class="t " style="left:497px;top:479.10px;font-size:7.65px;line-height:9px;word-spacing:0.564px;transform:scaleX(1.0350);"><i>Только один пользователь из группы может в определенный момент времени осуществлять передачу</i></div>
<div class="t " style="left:497px;top:489.10px;font-size:7.65px;line-height:9px;word-spacing:2.827px;transform:scaleX(1.0350);"><i>сообщения, остальные пользователи в этот момент будут прослушивать сообщение. По этой</i></div>
<div class="t " style="left:497px;top:499.10px;font-size:7.65px;line-height:9px;word-spacing:0.439px;transform:scaleX(1.0350);"><i>причине не следует осуществлять передачу, когда вы прослушиваете сообщение. Необходимо давать</i></div>
<div class="t " style="left:497px;top:508.10px;font-size:7.65px;line-height:9px;transform:scaleX(1.0352);"><i>возможность другим пользователям из группы закончить передавать сообщения.</i></div>
</div>
</body></html>
